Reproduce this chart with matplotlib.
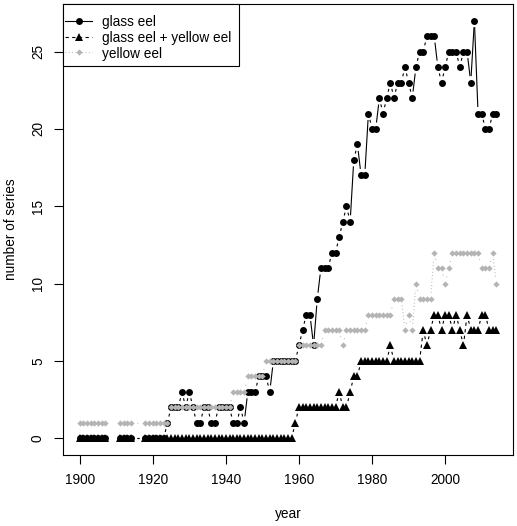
import matplotlib
matplotlib.use("Agg")

import numpy as np
import matplotlib.pyplot as plt
from matplotlib.collections import LineCollection
from matplotlib.patches import Rectangle

plt.rcParams["font.family"] = ["Liberation Sans", "DejaVu Sans"]
plt.rcParams["font.size"] = 9.8

# =========================================================
# data
# =========================================================
nan = np.nan
years = list(range(1900, 1915)) + list(range(1918, 2015))

glass = (
    [0] * 8 + [nan] * 3 + [0] * 4                      # 1900-1914
    + [0] * 6 + [1]                                      # 1918-1924
    + [2, 2, 2, 3, 2, 3, 2, 1, 1, 2, 2, 1, 1, 2, 2, 2, 2]  # 1925-1941
    + [1, 1, 2, 1, 3, 3, 3, 4, 4, 4, 3]                  # 1942-1952
    + [5] * 7                                            # 1953-1959
    + [6, 7, 8, 8, 6, 9, 11, 11, 11, 12, 12]             # 1960-1970
    + [13, 14, 15, 14, 18, 19, 17, 17, 21, 20]           # 1971-1980
    + [20, 22, 21, 22, 23, 22, 23, 23, 24, 23]           # 1981-1990
    + [22, 24, 25, 25, 26, 26, 26, 24, 23, 24]           # 1991-2000
    + [25, 25, 25, 24, 25, 25, 23, 27, 21, 21]           # 2001-2010
    + [20, 20, 21, 21]                                   # 2011-2014
)

glass_yellow = (
    [0] * 8 + [nan] * 3 + [0] * 4                      # 1900-1914
    + [0] * 41                                           # 1918-1958
    + [1] + [2] * 11                                     # 1959-1970
    + [3, 2, 2, 3, 4, 4]                                 # 1971-1976
    + [5] * 8 + [6] + [5] * 8                            # 1977-1993
    + [7, 6, 7, 8, 8, 7, 8, 8, 7, 8, 7]                  # 1994-2004
    + [6, 8, 7, 7, 7, 8, 8, 7, 7, 7]                     # 2005-2014
)

yellow = (
    [1] * 8 + [nan] * 3 + [1] * 4                      # 1900-1914
    + [1] * 7                                            # 1918-1924
    + [2] * 17                                           # 1925-1941
    + [3] * 4 + [4] * 5 + [5] * 9                        # 1942-1959
    + [6] * 7                                            # 1960-1966
    + [7] * 5 + [6] + [7] * 6                            # 1967-1978
    + [8] * 7 + [9] * 3                                  # 1979-1988
    + [7, 8, 7, 10, 9, 9, 9, 9]                          # 1989-1996
    + [12, 11, 11, 10, 11]                               # 1997-2001
    + [12] * 8 + [11] * 3 + [12, 10]                     # 2002-2014
)

labels = ["glass eel", "glass eel + yellow eel", "yellow eel"]
xticks = [1900, 1920, 1940, 1960, 1980, 2000]
yticks = [0, 5, 10, 15, 20, 25]

GREY = "#b4b4b4"
W, H = 517, 526

STYLES = [
    dict(marker="o", ms=5.0, color="black", ls="solid"),
    dict(marker="^", ms=5.8, color="black", ls=(0, (3, 3))),
    dict(marker="D", ms=3.2, color=GREY, ls=(0, (0.8, 2.2))),
]


def gapped_line(ax, x, y, gap=6.5, **kw):
    """R type='b': segments stop short of the points."""
    pts = ax.transData.transform(np.column_stack([x, y]))
    inv = ax.transData.inverted()
    segs = []
    for p0, p1 in zip(pts[:-1], pts[1:]):
        if np.isnan(p0).any() or np.isnan(p1).any():
            continue
        d = p1 - p0
        L = np.hypot(*d)
        if L <= 2 * gap:
            continue
        u = d / L
        segs.append(inv.transform([p0 + u * gap, p1 - u * gap]))
    ax.add_collection(LineCollection(segs, **kw))


def fx(px):
    return px / W


def fy(py):
    return 1 - py / H


# =========================================================
# figure
# =========================================================
fig = plt.figure(figsize=(W / 100, H / 100), dpi=100)
ax = fig.add_axes([fx(63), fy(455), 450 / W, 451 / H])

xr = 2014 - 1900
ax.set_xlim(1900 - 0.04 * xr, 2014 + 0.04 * xr)
ax.set_ylim(-0.04 * 27, 27 * 1.04)

x = np.array(years, dtype=float)
for vals, st in zip([glass, glass_yellow, yellow], STYLES):
    y = np.array(vals, dtype=float)
    gapped_line(ax, x, y, color=st["color"], lw=0.8, linestyle=st["ls"])
    ax.plot(x, y, linestyle="none", marker=st["marker"], ms=st["ms"],
            color=st["color"], mew=0)

# legend drawn R-style (box in top-left corner)
fig.add_artist(Rectangle((fx(63), fy(65.5)), fx(239) - fx(63), fy(4) - fy(65.5),
                         transform=fig.transFigure, facecolor="white",
                         edgecolor="black", lw=0.8, zorder=5))
for row, (lab, st) in enumerate(zip(labels, STYLES)):
    ry = fy(20.7 + 15.8 * row)
    fig.add_artist(plt.Line2D([fx(65), fx(92)], [ry, ry], transform=fig.transFigure,
                              color=st["color"], lw=0.8, ls=st["ls"], zorder=6))
    fig.add_artist(plt.Line2D([fx(78.5)], [ry], transform=fig.transFigure,
                              marker=st["marker"], ms=st["ms"], color=st["color"],
                              mew=0, ls="none", zorder=7))
    fig.text(fx(102.5), ry, lab, ha="left", va="center_baseline", zorder=7)

ax.set_xticks(xticks)
ax.set_yticks(yticks)
ax.set_yticklabels([str(t) for t in yticks], rotation=90, va="center")
ax.tick_params(direction="out", length=6.5, width=0.8)
ax.tick_params(axis="x", pad=6.2)
ax.tick_params(axis="y", pad=6.5)
for s in ax.spines.values():
    s.set_linewidth(0.8)

ax.set_xlabel("year", labelpad=15)
ax.set_ylabel("number of series", labelpad=9)

fig.savefig("out.png", dpi=100)
